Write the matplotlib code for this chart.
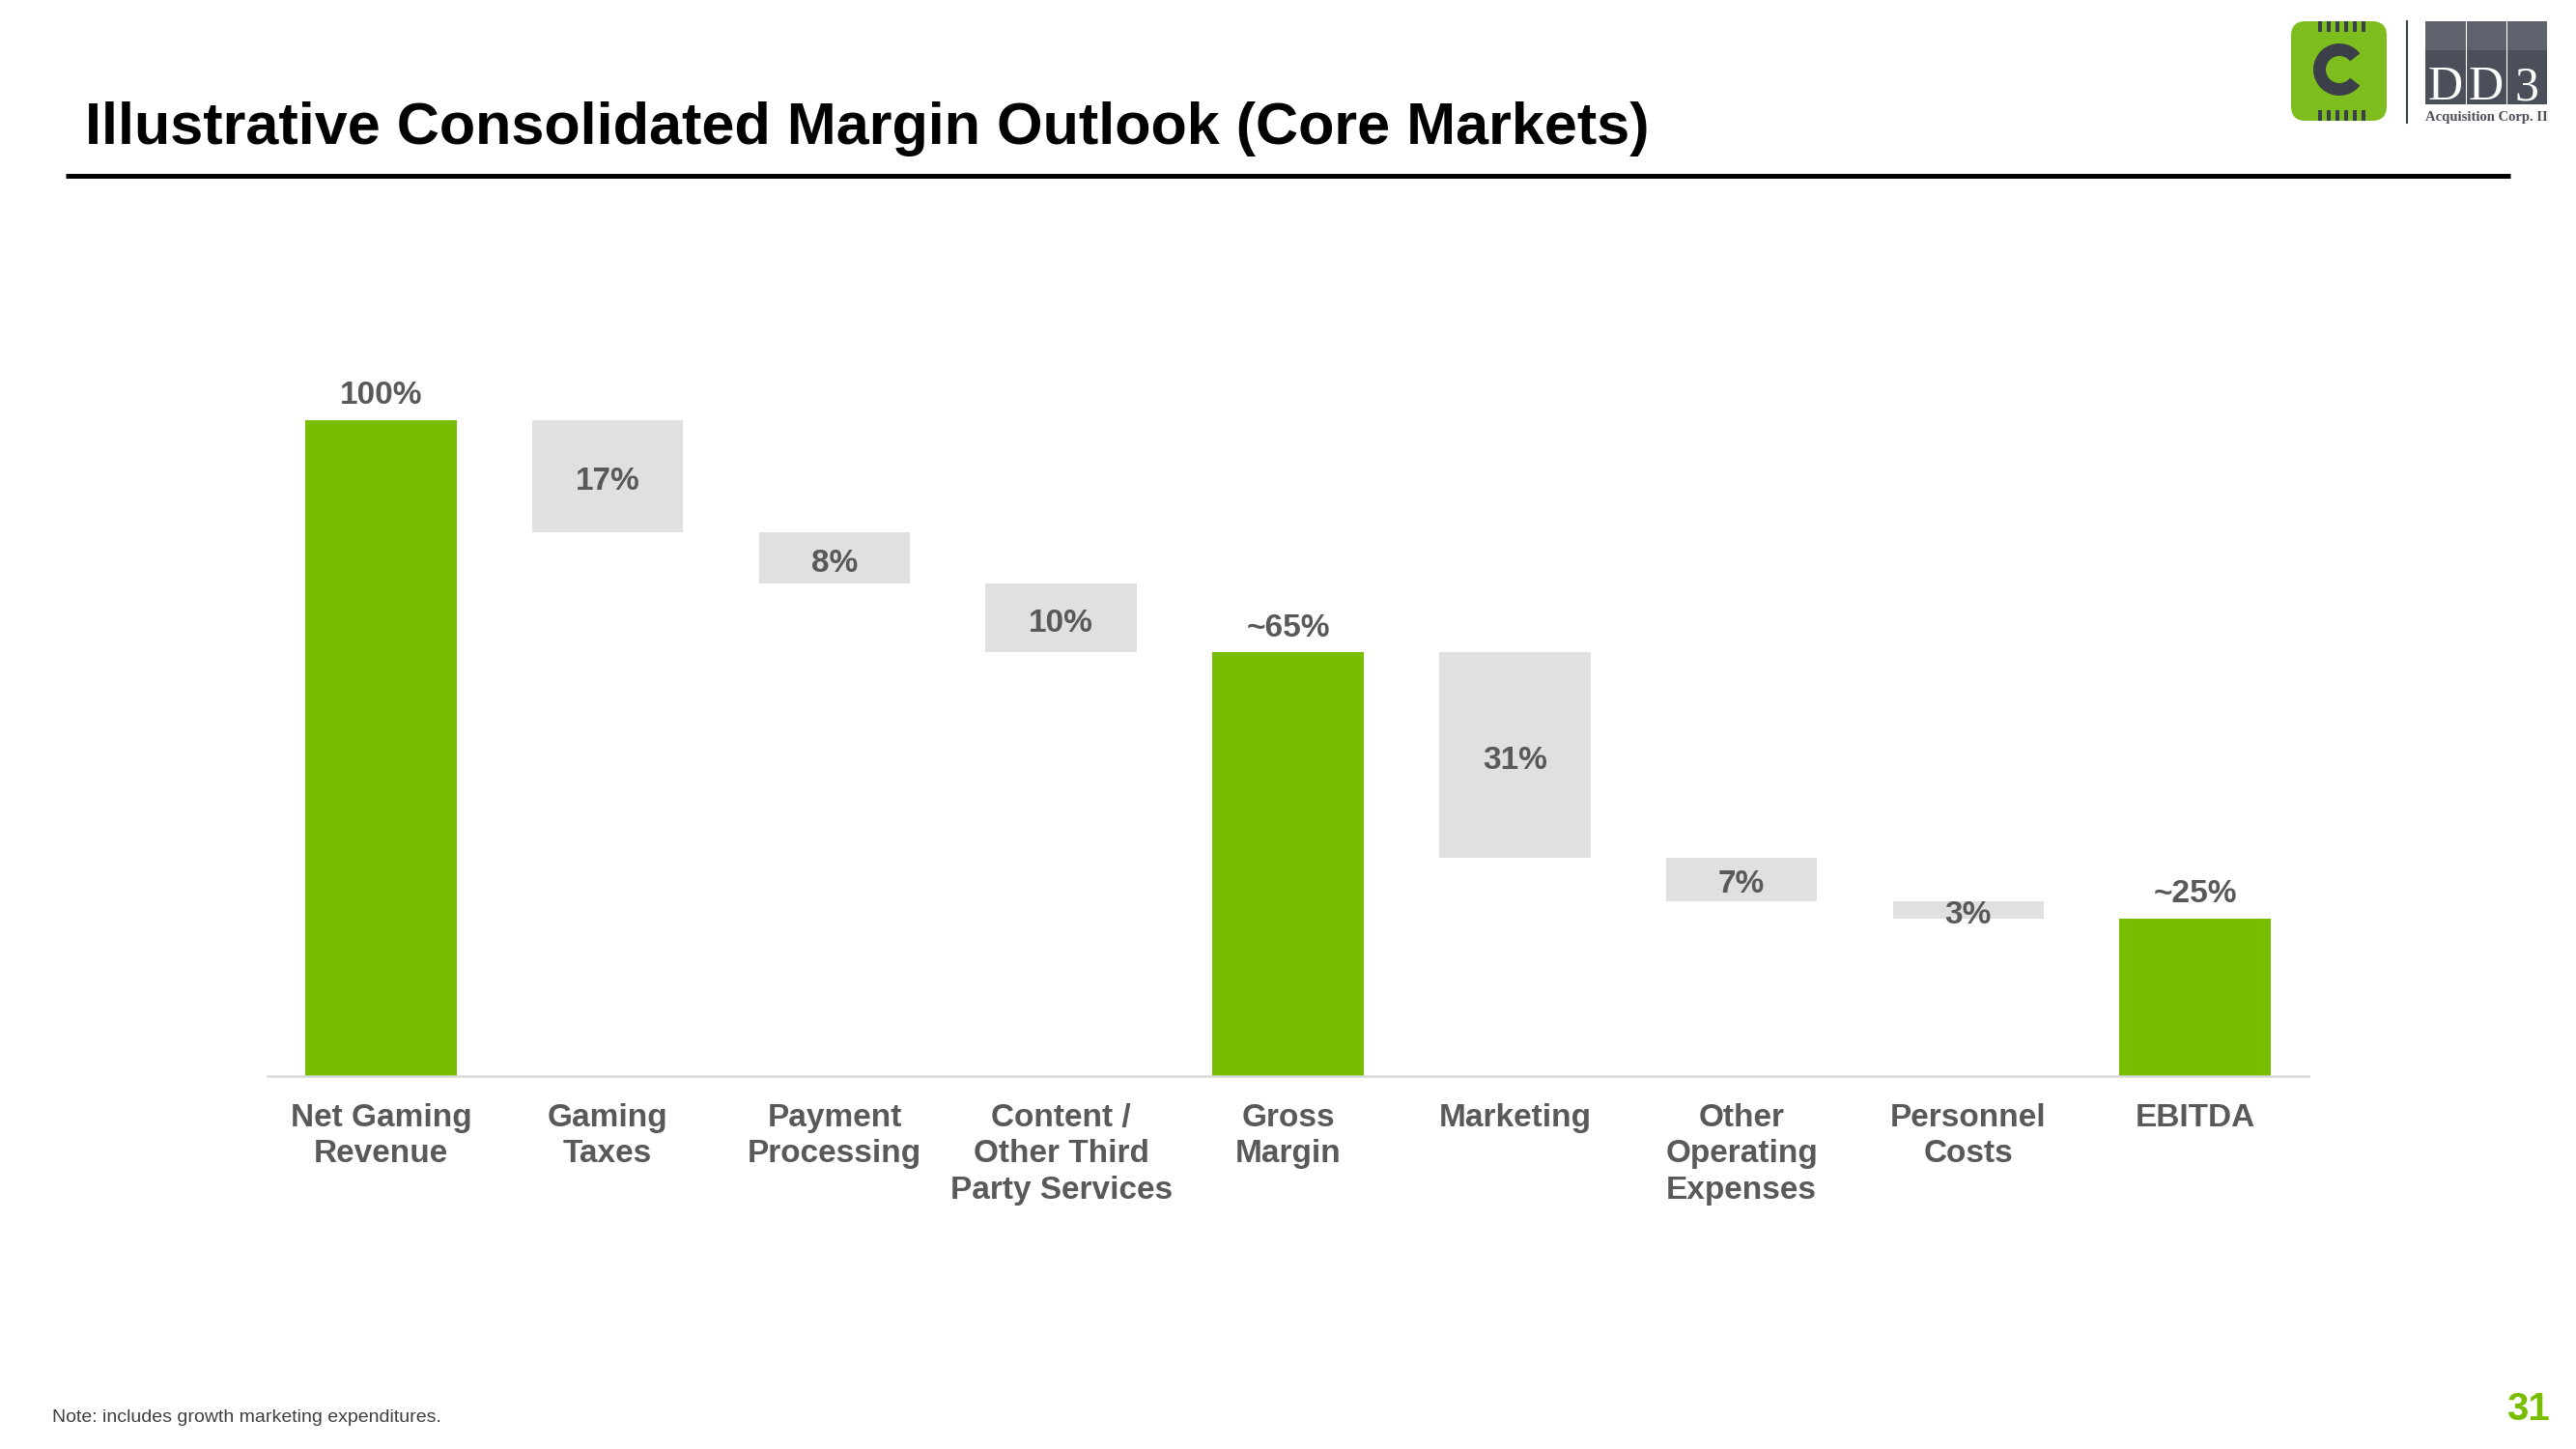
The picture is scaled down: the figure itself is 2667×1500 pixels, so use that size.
import matplotlib
matplotlib.use("Agg")
import matplotlib.pyplot as plt
from matplotlib.patches import FancyBboxPatch, Rectangle, Wedge

plt.rcParams['font.family'] = ['Liberation Sans', 'DejaVu Sans']

# data
categories = ["Net Gaming\nRevenue", "Gaming\nTaxes", "Payment\nProcessing",
              "Content /\nOther Third\nParty Services", "Gross\nMargin", "Marketing",
              "Other\nOperating\nExpenses", "Personnel\nCosts", "EBITDA"]
# bar heights (percent of net gaming revenue)
values = [100, 17.1, 7.8, 10.5, 64.6, 31.3, 6.6, 2.7, 24.0]
is_total = [True, False, False, False, True, False, False, False, True]
value_labels = ["100%", "17%", "8%", "10%", "~65%", "31%", "7%", "3%", "~25%"]

GREEN = "#78BE00"
BOX = "#E0E0E0"
TXT = "#595959"

W, H = 2667, 1500
fig = plt.figure(figsize=(W / 100, H / 100), dpi=100)
fig.patch.set_facecolor("white")

# title + rule
fig.text(88 / W, 1 - 149 / H, "Illustrative Consolidated Margin Outlook (Core Markets)",
         fontsize=44, fontweight="bold", color="black", va="baseline", ha="left")
fig.add_artist(plt.Line2D([68 / W, 2599 / W], [1 - 182 / H, 1 - 182 / H],
                          color="black", lw=3.6, solid_capstyle="butt"))

# waterfall
ax = fig.add_axes([277 / W, 1 - 1114 / H, 2113 / W, 747 / H])
running = 0
for i, (v, tot) in enumerate(zip(values, is_total)):
    if tot:
        running = v
        ax.bar(i, v, width=0.667, bottom=0, color=GREEN, zorder=2)
        ax.annotate(value_labels[i], (i, v), xytext=(0, 7), textcoords="offset points",
                    ha="center", va="bottom", fontsize=24, fontweight="bold", color=TXT)
    else:
        bottom = running - v
        ax.bar(i, v, width=0.667, bottom=bottom, color=BOX, zorder=2)
        ax.annotate(value_labels[i], (i, bottom + v / 2), xytext=(0, -4),
                    textcoords="offset points", ha="center", va="center",
                    fontsize=24, fontweight="bold", color=TXT, zorder=3)
        running = bottom

ax.set_xlim(-0.5, len(categories) - 0.5)
ax.set_ylim(0, 110)
ax.set_xticks(range(len(categories)))
ax.set_xticklabels(categories, fontsize=24, fontweight="bold", color=TXT,
                   linespacing=1.27, va="top")
ax.tick_params(axis="x", length=0, pad=20)
ax.set_yticks([])
for s in ["top", "left", "right"]:
    ax.spines[s].set_visible(False)
ax.spines["bottom"].set_color("#D9D9D9")
ax.spines["bottom"].set_linewidth(1.8)

# footnote and page number
fig.text(54 / W, 1 - 1468 / H, "Note: includes growth marketing expenditures.",
         fontsize=14, color="#404040", va="center", ha="left")
fig.text(2640 / W, 1 - 1459 / H, "31", fontsize=29, fontweight="bold", color=GREEN,
         va="center", ha="right")

# logo (simplified)
lg = fig.add_axes([2360 / W, 1 - 140 / H, 300 / W, 130 / H])
lg.set_xlim(2360, 2660)
lg.set_ylim(140, 10)
lg.set_aspect("equal")
lg.axis("off")
lg.add_patch(FancyBboxPatch((2372, 22), 99, 103, boxstyle="round,pad=0,rounding_size=15",
                            fc="#7DBE1E", ec="none"))
for k in range(6):
    x0 = 2400 + k * 9
    lg.add_patch(Rectangle((x0, 22), 3.5, 11, fc="#3A3F48", ec="none"))
    lg.add_patch(Rectangle((x0, 114), 3.5, 11, fc="#3A3F48", ec="none"))
lg.add_patch(Wedge((2422, 72), 27, 38, 322, width=13, fc="#3A3F48", ec="none"))
lg.plot([2492, 2492], [22, 127], color="#3A3F48", lw=1.5)
lg.add_patch(Rectangle((2511, 22), 126, 86, fc="#4B4F5A", ec="none"))
lg.add_patch(Rectangle((2511, 22), 126, 30, fc="#5E626C", ec="none"))
for xs in [2553, 2595]:
    lg.plot([xs, xs], [22, 108], color="white", lw=0.8)
for xc, ch in zip([2532, 2574, 2616], ["D", "D", "3"]):
    lg.text(xc, 91, ch, fontsize=36, family=["Liberation Serif", "DejaVu Serif"],
            color="white", ha="center", va="center")
lg.text(2574, 121, "Acquisition Corp. II", fontsize=10.5, fontweight="bold",
        family=["Liberation Serif", "DejaVu Serif"], color="#4B4F5A", ha="center", va="center")

fig.savefig("out.png", dpi=100, facecolor="white")
